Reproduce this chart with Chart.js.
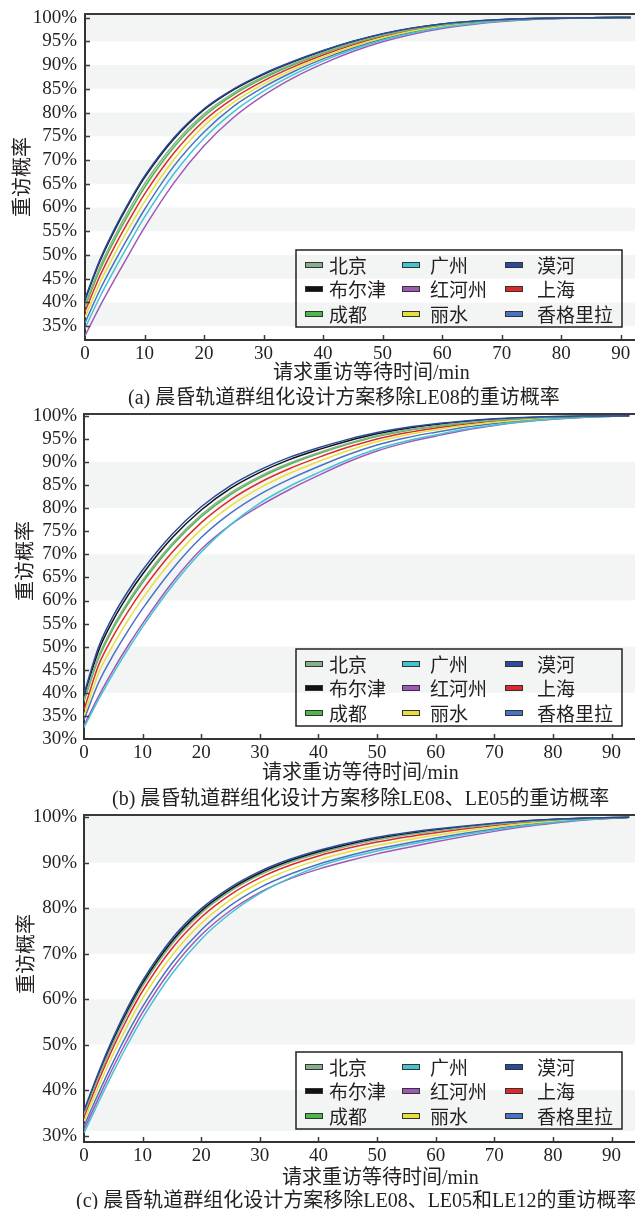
<!DOCTYPE html>
<html><head><meta charset="utf-8">
<script src="https://cdn.jsdelivr.net/npm/chart.js@4/dist/chart.umd.min.js"></script>
<style>
html,body{margin:0;padding:0;background:#fff;}
#page{position:relative;width:635px;height:1209px;overflow:hidden;background:#fff;}
canvas{position:absolute;left:0;}
.t{position:absolute;white-space:nowrap;font-family:"Liberation Serif","Noto Sans CJK SC",serif;font-size:20px;color:#231f20;line-height:1;transform:translateY(-50%);}
.yt{position:absolute;white-space:nowrap;font-family:"Noto Sans CJK SC",serif;font-size:20px;color:#231f20;line-height:1;transform:translate(-50%,-50%) rotate(-90deg);}
</style></head>
<body><div id="page">
<canvas id="ca" width="635" height="366" style="top:0px"></canvas>
<canvas id="cb" width="635" height="366" style="top:400px"></canvas>
<canvas id="cc" width="635" height="366" style="top:801px"></canvas>
<div class="yt" style="left:21px;top:177px">重访概率</div>
<div class="yt" style="left:24px;top:561px">重访概率</div>
<div class="yt" style="left:25px;top:954px">重访概率</div>
<div class="t" style="left:273px;top:372px">请求重访等待时间/min</div>
<div class="t" style="left:262px;top:772px">请求重访等待时间/min</div>
<div class="t" style="left:282px;top:1177px">请求重访等待时间/min</div>
<div class="t" style="left:128px;top:397px">(a) 晨昏轨道群组化设计方案移除LE08的重访概率</div>
<div class="t" style="left:112px;top:798px">(b) 晨昏轨道群组化设计方案移除LE08、LE05的重访概率</div>
<div class="t" style="left:76px;top:1200px">(c) 晨昏轨道群组化设计方案移除LE08、LE05和LE12的重访概率</div>
</div>
<script>
// ---- data ----
const SITES = ['北京','布尔津','成都','广州','红河州','丽水','漠河','上海','香格里拉'];
const COLORS = ['#86b08c','#111111','#4cb84c','#45c3d3','#a058b8','#e8e03a','#2a4a9c','#e02828','#4a72c4'];

const TIME_A = [0,2.5,5,7.5,10,15,20,25,30,35,40,45,50,55,60,65,70,75,80,85,91.7];
const TIME_BC = [0,2.5,5,7.5,10,15,20,25,30,35,40,45,50,55,60,65,70,75,80,85,93];

const X_TICKS = [0,10,20,30,40,50,60,70,80,90];
const Y_TICKS_A = [35,40,45,50,55,60,65,70,75,80,85,90,95,100];
const Y_TICKS_B = [30,35,40,45,50,55,60,65,70,75,80,85,90,95,100];
const Y_TICKS_C = [30,40,50,60,70,80,90,100];

// (a) remove LE08
const A_BJ   = [39.63,47.53,53.99,59.75,64.98,73.42,79.72,84.16,87.54,90.29,92.64,94.68,96.34,97.6,98.51,99.1,99.51,99.77,99.9,99.98,100];
const A_BEJ  = [40.57,48.71,55.28,61.07,66.28,74.52,80.58,84.83,88.07,90.7,92.97,94.94,96.55,97.76,98.62,99.18,99.56,99.79,99.92,99.98,100];
const A_CD   = [39.08,46.84,53.25,58.98,64.22,72.78,79.22,83.77,87.23,90.05,92.46,94.53,96.23,97.51,98.44,99.06,99.48,99.75,99.9,99.97,100];
const A_GZ   = [34.56,41.16,47.04,52.6,57.96,67.2,74.6,80.2,84.5,88.0,90.89,93.28,95.24,96.76,97.89,98.68,99.25,99.62,99.84,99.96,100];
const A_HHZ  = [33.0,39.2,44.9,50.4,55.8,65.3,73.0,79.0,83.6,87.3,90.3,92.85,94.9,96.5,97.7,98.55,99.17,99.58,99.82,99.95,100];
const A_LS   = [36.9,44.1,50.25,55.9,61.2,70.2,77.2,82.2,86.0,89.1,91.7,93.92,95.75,97.15,98.17,98.87,99.37,99.69,99.87,99.96,100];
const A_MH   = [40.8,49.0,55.6,61.4,66.6,74.8,80.8,85.0,88.2,90.8,93.05,95.0,96.6,97.8,98.65,99.2,99.57,99.8,99.92,99.98,100];
const A_SH   = [38.07,45.57,51.85,57.55,62.82,71.58,78.28,83.04,86.66,89.61,92.1,94.25,96.0,97.34,98.32,98.97,99.43,99.72,99.88,99.97,100];
const A_XGLL = [35.73,42.63,48.64,54.25,59.58,68.82,75.9,81.36,85.34,88.59,91.29,93.6,95.49,96.95,98.03,98.78,99.31,99.66,99.85,99.96,100];

// (b) remove LE08, LE05
const B_BJ   = [38.49,47.95,54.45,59.73,64.39,72.28,78.54,83.32,86.9,89.74,92.02,94.02,95.68,96.91,97.81,98.54,99.09,99.48,99.74,99.9,100];
const B_BEJ  = [39.29,49.2,55.82,61.12,65.74,73.52,79.61,84.28,87.75,90.51,92.68,94.56,96.12,97.27,98.11,98.76,99.25,99.58,99.81,99.93,100];
const B_CD   = [38.19,47.49,53.95,59.23,63.89,71.84,78.14,82.96,86.58,89.46,91.78,93.82,95.52,96.77,97.71,98.46,99.03,99.44,99.72,99.88,100];
const B_GZ   = [32.5,38.6,44.2,49.4,54.3,63.1,70.5,76.45,81.12,84.7,87.7,90.49,92.8,94.53,95.87,97.1,98.04,98.79,99.31,99.68,100];
const B_HHZ  = [32.9,39.3,45.0,50.2,55.0,63.8,71.1,76.4,80.5,84.0,87.1,90.0,92.4,94.2,95.6,96.9,97.9,98.7,99.25,99.65,100];
const B_LS   = [35.0,44.3,50.45,55.7,60.45,68.7,75.4,80.5,84.4,87.5,90.1,92.45,94.4,95.85,96.95,97.9,98.62,99.17,99.55,99.8,100];
const B_MH   = [39.8,50.0,56.7,62.0,66.6,74.3,80.3,84.9,88.3,91.0,93.1,94.9,96.4,97.5,98.3,98.9,99.35,99.65,99.85,99.95,100];
const B_SH   = [36.3,46.01,52.32,57.59,62.29,70.38,76.87,81.82,85.57,88.55,91.0,93.18,95.0,96.34,97.35,98.2,98.84,99.32,99.64,99.84,100];
const B_XGLL = [34.2,42.25,48.2,53.43,58.24,66.68,73.64,78.92,83.0,86.24,89.02,91.57,93.68,95.26,96.46,97.54,98.36,99.0,99.44,99.75,100];

// (c) remove LE08, LE05, LE12
const C_BJ   = [34.76,43.01,50.46,57.08,62.87,72.14,78.9,83.74,87.33,89.99,92.05,93.7,95.04,96.1,96.98,97.75,98.43,99.0,99.42,99.73,100];
const C_BEJ  = [35.16,43.54,51.07,57.73,63.53,72.76,79.43,84.2,87.74,90.37,92.4,94.02,95.34,96.37,97.2,97.94,98.57,99.11,99.49,99.77,100];
const C_CD   = [34.86,43.14,50.61,57.25,63.03,72.3,79.03,83.86,87.44,90.09,92.14,93.78,95.12,96.17,97.04,97.8,98.47,99.03,99.44,99.74,100];
const C_GZ   = [30.6,37.4,44.0,50.2,55.9,65.6,73.2,78.9,83.26,86.56,89.17,91.1,92.57,93.89,95.1,96.21,97.22,98.13,98.85,99.43,100];
const C_HHZ  = [31.3,38.3,45.1,51.3,57.1,66.7,74.1,79.5,83.5,86.4,88.6,90.4,91.95,93.3,94.6,95.8,96.9,97.9,98.7,99.35,100];
const C_LS   = [33.15,40.83,47.95,54.41,60.16,69.6,76.68,81.86,85.65,88.44,90.64,92.38,93.82,95.02,96.06,97.0,97.84,98.58,99.14,99.58,100];
const C_MH   = [35.5,44.0,51.6,58.3,64.1,73.3,79.9,84.6,88.1,90.7,92.7,94.3,95.6,96.6,97.4,98.1,98.7,99.2,99.55,99.8,100];
const C_SH   = [34.13,42.15,49.47,56.03,61.8,71.14,78.02,83.0,86.67,89.38,91.5,93.18,94.56,95.68,96.62,97.46,98.2,98.84,99.31,99.67,100];
const C_XGLL = [32.07,39.38,46.28,52.63,58.36,67.91,75.21,80.61,84.53,87.41,89.69,91.5,93.01,94.29,95.44,96.49,97.44,98.29,98.95,99.48,100];

// ---- plugins ----
const bandsPlugin = {
  id: 'bands',
  beforeDraw(chart, args, o) {
    const {ctx, chartArea: a, scales: {y}} = chart;
    ctx.save();
    ctx.fillStyle = o.color;
    (o.ranges || []).forEach(([lo, hi]) => {
      const y1 = y.getPixelForValue(Math.min(hi, y.max));
      const y2 = y.getPixelForValue(Math.max(lo, y.min));
      ctx.fillRect(a.left, y1, a.right - a.left, y2 - y1);
    });
    ctx.restore();
  }
};
const framePlugin = {
  id: 'frame',
  afterDatasetsDraw(chart) {
    const {ctx, chartArea: a, scales: {x, y}} = chart;
    ctx.save();
    ctx.strokeStyle = '#3a3a3a';
    ctx.lineWidth = 2;
    ctx.beginPath();
    ctx.moveTo(a.left - 1, a.top);
    ctx.lineTo(a.right + 2, a.top);
    ctx.stroke();
    ctx.lineWidth = 1.5;
    ctx.beginPath();
    y.ticks.forEach(t => {
      const py = Math.round(y.getPixelForValue(t.value)) + 0.5;
      if (py > a.bottom - 2) return;
      ctx.moveTo(a.left, py); ctx.lineTo(a.left + 5, py);
    });
    x.ticks.forEach(t => {
      const px = Math.round(x.getPixelForValue(t.value)) + 0.5;
      if (px < a.left + 2) return;
      ctx.moveTo(px, a.bottom); ctx.lineTo(px, a.bottom - 5);
    });
    ctx.stroke();
    ctx.restore();
  }
};
const boxLegendPlugin = {
  id: 'boxLegend',
  afterDraw(chart, args, o) {
    const {ctx, chartArea} = chart;
    const bottom = chartArea.bottom - o.gap;
    const top = bottom - o.height;
    ctx.save();
    ctx.strokeStyle = '#222';
    ctx.lineWidth = 1.5;
    ctx.strokeRect(o.left, top, o.right - o.left, o.height);
    ctx.font = '19px "Noto Sans CJK SC", "Liberation Serif"';
    ctx.textBaseline = 'middle';
    chart.data.datasets.forEach((ds, i) => {
      const col = Math.floor(i / 3), row = i % 3;
      const yy = Math.round(top + o.rowY[row]);
      const sx = o.swatchX[col];
      ctx.fillStyle = ds.borderColor;
      ctx.fillRect(sx, yy - 3, 18, 6);
      ctx.lineWidth = 1;
      ctx.strokeStyle = '#333';
      ctx.strokeRect(sx + 0.5, yy - 2.5, 17, 5);
      ctx.fillStyle = '#231f20';
      ctx.fillText(ds.label, o.textX[col], yy + 1);
    });
    ctx.restore();
  }
};

const TICK_FONT = {family: '"Liberation Serif", "Times New Roman", serif', size: 19};

function makeChart(id, time, series, cfg) {
  const datasets = SITES.map((name, i) => ({
    label: name,
    data: time.map((t, j) => ({x: t, y: series[i][j]})),
    borderColor: COLORS[i],
    backgroundColor: COLORS[i],
    borderWidth: 1.5,
    pointRadius: 0,
    fill: false,
    cubicInterpolationMode: 'monotone',
    order: name === '漠河' ? 0 : 1
  }));
  return new Chart(document.getElementById(id), {
    type: 'line',
    data: {datasets},
    options: {
      responsive: false,
      animation: false,
      events: [],
      layout: {padding: {top: 14, left: 0, right: 0, bottom: 0}},
      plugins: {
        legend: {display: false},
        tooltip: {enabled: false},
        bands: {color: '#f3f5f5', ranges: cfg.bands},
        boxLegend: {left: 296, right: 622, gap: 13, height: 77, rowY: [14.5, 38.7, 63.5],
                    swatchX: [305, 402, 505], textX: [329, 430, 537]}
      },
      scales: {
        x: {
          type: 'linear', min: 0, max: cfg.xMax,
          afterBuildTicks: s => { s.ticks = X_TICKS.map(v => ({value: v})); },
          afterFit: s => { s.height = cfg.xH; s.paddingLeft = 0; s.paddingRight = 0; },
          grid: {display: false, drawTicks: false},
          border: {color: '#333', width: 2},
          ticks: {padding: 3, autoSkip: false, font: TICK_FONT, color: '#231f20', maxRotation: 0, callback: v => String(v)}
        },
        y: {
          type: 'linear', min: cfg.yMin, max: cfg.yMax,
          afterBuildTicks: s => { s.ticks = cfg.yTicks.map(v => ({value: v})); },
          afterFit: s => { s.width = cfg.yW; s.paddingTop = 0; s.paddingBottom = 0; },
          grid: {display: false, drawTicks: false},
          border: {color: '#333', width: 2},
          ticks: {padding: cfg.yPad, autoSkip: false, font: TICK_FONT, color: '#231f20', callback: v => v + '%'}
        }
      }
    },
    plugins: [bandsPlugin, framePlugin, boxLegendPlugin]
  });
}

makeChart('ca', TIME_A, [A_BJ, A_BEJ, A_CD, A_GZ, A_HHZ, A_LS, A_MH, A_SH, A_XGLL], {
  xMax: 92.4, yMin: 32.1, yMax: 100.75, yTicks: Y_TICKS_A, xH: 26, yW: 85, yPad: 8,
  bands: [[95, 101], [85, 90], [75, 80], [65, 70], [55, 60], [45, 50], [35, 40]]
});
makeChart('cb', TIME_BC, [B_BJ, B_BEJ, B_CD, B_GZ, B_HHZ, B_LS, B_MH, B_SH, B_XGLL], {
  xMax: 94.0, yMin: 30, yMax: 100.4, yTicks: Y_TICKS_B, xH: 27, yW: 84, yPad: 7,
  bands: [[80, 90], [60, 70], [40, 50]]
});
makeChart('cc', TIME_BC, [C_BJ, C_BEJ, C_CD, C_GZ, C_HHZ, C_LS, C_MH, C_SH, C_XGLL], {
  xMax: 94.0, yMin: 28.6, yMax: 100.5, yTicks: Y_TICKS_C, xH: 25, yW: 84, yPad: 7,
  bands: [[90, 101], [70, 80], [50, 60], [31, 40]]
});
</script>
</body></html>
